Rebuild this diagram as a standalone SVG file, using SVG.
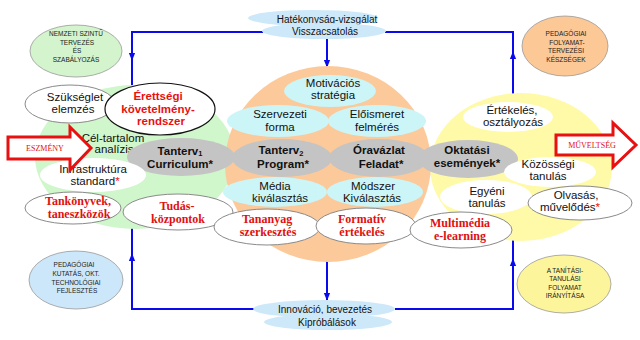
<svg xmlns="http://www.w3.org/2000/svg" width="640" height="340" viewBox="0 0 640 340">
<defs>
<style>
.t{font-family:"Liberation Sans",Arial,sans-serif;font-size:11.5px;fill:#111;text-anchor:middle}
.b{font-weight:bold}
.r{fill:#e81010}
.s{font-family:"Liberation Serif","Times New Roman",serif;font-weight:bold;font-size:12px;fill:#e01010;text-anchor:middle}
.sm{font-family:"Liberation Sans",Arial,sans-serif;font-size:6.5px;fill:#222;text-anchor:middle}
.md{font-size:10px}
.sub{font-size:7.5px}
.wh{fill:#fff;stroke:#8a8a8a;stroke-width:1}
.wn{fill:#fff}
.gr{fill:#c4c4c4}
.cy{fill:#ccf5f7}
.lb{fill:#cde9f9}
.cn{fill:none;stroke:#0a0aee;stroke-width:2}
.ar{fill:#fff;stroke:#e81010;stroke-width:3}
.at{font-family:"Liberation Serif","Times New Roman",serif;font-size:8px;fill:#e01010;text-anchor:middle}
</style>
<marker id="ah" viewBox="0 0 10 10" refX="9" refY="5" markerWidth="8" markerHeight="8" markerUnits="userSpaceOnUse" orient="auto">
<path d="M0,1 L10,5 L0,9 z" fill="#0a0aee"/>
</marker>
</defs>
<rect width="640" height="340" fill="#fff"/>

<g id="connectors">
<path class="cn" d="M263,32 H132 V100"/>
<path class="cn" d="M132,40 V60" marker-end="url(#ah)"/>
<path class="cn" d="M385,32 H513 V100"/>
<path class="cn" d="M513,70 V52" marker-end="url(#ah)"/>
<path class="cn" d="M255,309 H132 V220"/>
<path class="cn" d="M132,280 V254" marker-end="url(#ah)"/>
<path class="cn" d="M395,309 H513 V235"/>
<path class="cn" d="M513,285 V259" marker-end="url(#ah)"/>
<path class="cn" d="M327,39 V67" marker-end="url(#ah)"/>
<path class="cn" d="M327,260 V300" marker-end="url(#ah)"/>
</g>

<g id="feedback">
<ellipse class="lb" cx="313" cy="18" rx="65" ry="8"/>
<text class="t md" x="327" y="23">Hatékonyság-vizsgálat</text>
<ellipse class="lb" cx="324" cy="31" rx="62" ry="8"/>
<text class="t md" x="325" y="35">Visszacsatolás</text>
</g>
<g id="innovation">
<ellipse class="lb" cx="324" cy="309" rx="71" ry="9"/>
<text class="t md" x="325" y="313">Innováció, bevezetés</text>
<ellipse class="lb" cx="328" cy="322" rx="64" ry="8"/>
<text class="t md" x="327" y="326">Kipróbálások</text>
</g>

<g id="nemzeti">
<ellipse cx="76" cy="51" rx="46" ry="26" fill="#d3f4cc" stroke="#999" stroke-width="0.8"/>
<text class="sm" x="76" y="35.6">NEMZETI SZINTŰ</text>
<text class="sm" x="77" y="44.6">TERVEZÉS</text>
<text class="sm" x="77" y="53">ÉS</text>
<text class="sm" x="76" y="61.6">SZABÁLYOZÁS</text>
</g>
<g id="pedagogiai-folyamat">
<ellipse cx="565" cy="46" rx="43" ry="30" fill="#fcc895" stroke="#999" stroke-width="0.8"/>
<text class="sm" x="566" y="35.6">PEDAGÓGIAI</text>
<text class="sm" x="567" y="44.6">FOLYAMAT-</text>
<text class="sm" x="566" y="53">TERVEZÉSI</text>
<text class="sm" x="566" y="61.6">KÉSZSÉGEK</text>
</g>
<g id="pedagogiai-kutatas">
<ellipse cx="76" cy="280" rx="47" ry="29" fill="#cde7fa" stroke="#999" stroke-width="0.8"/>
<text class="sm" x="74" y="267.3">PEDAGÓGIAI</text>
<text class="sm" x="76" y="275.6">KUTATÁS, OKT.</text>
<text class="sm" x="76" y="284.6">TECHNOLÓGIAI</text>
<text class="sm" x="77" y="293.3">FEJLESZTÉS</text>
</g>
<g id="tanitasi">
<ellipse cx="564" cy="284" rx="47" ry="29" fill="#fdf59c" stroke="#999" stroke-width="0.8"/>
<text class="sm" x="565" y="273">A TANÍTÁSI-</text>
<text class="sm" x="565" y="281.3">TANULÁSI</text>
<text class="sm" x="565" y="290">FOLYAMAT</text>
<text class="sm" x="565" y="298.3">IRÁNYÍTÁSA</text>
</g>

<g id="green-area"><ellipse cx="135" cy="157" rx="100" ry="72" fill="#d0f6cb"/></g>
<g id="yellow-area"><ellipse cx="521" cy="167" rx="91" ry="74" fill="#fffaa8"/></g>
<g id="orange-area"><ellipse cx="328" cy="164" rx="103" ry="98" fill="#fcc99a"/></g>

<g id="cel-tartalom">
<text class="t" x="113" y="142">Cél-tartalom</text>
<text class="t" x="114" y="153">analízis</text>
</g>
<g id="szukseglet">
<ellipse class="wh" cx="70" cy="104" rx="45" ry="19"/>
<text class="t" x="75" y="101">Szükséglet</text>
<text class="t" x="73" y="113">elemzés</text>
</g>
<g id="erettsegi">
<ellipse cx="160" cy="109" rx="55" ry="26" fill="#fff" stroke="#111" stroke-width="1.2"/>
<text class="t b r" x="158" y="100">Érettségi</text>
<text class="t b r" x="158" y="112.5">követelmény-</text>
<text class="t b r" x="161" y="125">rendszer</text>
</g>
<g id="tanterv1">
<ellipse class="gr" cx="181" cy="157" rx="54" ry="19"/>
<text class="t b" x="180" y="154.5">Tanterv<tspan class="sub" dy="1.5">1</tspan></text>
<text class="t b" x="180" y="167.5">Curriculum*</text>
</g>
<g id="infrastruktura">
<ellipse class="wn" cx="93" cy="175" rx="53" ry="17"/>
<text class="t" x="93" y="173">Infrastruktúra</text>
<text class="t" x="95" y="185">standard<tspan class="r">*</tspan></text>
</g>
<g id="tankonyvek">
<ellipse class="wh" cx="73" cy="208" rx="48" ry="16"/>
<text class="s" x="78" y="204.5">Tankönyvek,</text>
<text class="s" x="79" y="217.5">taneszközök</text>
</g>
<g id="tudas">
<ellipse class="wh" cx="178" cy="212" rx="55" ry="18"/>
<text class="s" x="177" y="209.5">Tudás-</text>
<text class="s" x="178" y="222.5">központok</text>
</g>

<g id="motivacios">
<ellipse class="cy" cx="330" cy="91" rx="46" ry="16"/>
<text class="t" x="333" y="87">Motivációs</text>
<text class="t" x="333" y="99">stratégia</text>
</g>
<g id="szervezeti">
<ellipse class="cy" cx="278" cy="121" rx="51" ry="16"/>
<text class="t" x="280" y="118">Szervezeti</text>
<text class="t" x="280" y="131">forma</text>
</g>
<g id="eloismeret">
<ellipse class="cy" cx="377" cy="121" rx="49" ry="16"/>
<text class="t" x="377" y="118">Előismeret</text>
<text class="t" x="377" y="131">felmérés</text>
</g>
<g id="tanterv2">
<ellipse class="gr" cx="282" cy="158" rx="50" ry="19"/>
<text class="t b" x="281" y="154">Tanterv<tspan class="sub" dy="1.5">2</tspan></text>
<text class="t b" x="283" y="167.5">Program*</text>
</g>
<g id="oravazlat">
<ellipse class="gr" cx="379" cy="158" rx="50" ry="19"/>
<text class="t b" x="379" y="154">Óravázlat</text>
<text class="t b" x="381" y="167.5">Feladat*</text>
</g>
<g id="media">
<ellipse class="cy" cx="275" cy="192" rx="52" ry="15"/>
<text class="t" x="275" y="190">Média</text>
<text class="t" x="280" y="202">kiválasztás</text>
</g>
<g id="modszer">
<ellipse class="cy" cx="375" cy="192" rx="48" ry="15"/>
<text class="t" x="373" y="190">Módszer</text>
<text class="t" x="372" y="202">Kiválasztás</text>
</g>
<g id="tananyag">
<ellipse class="wh" cx="267" cy="227" rx="53" ry="18"/>
<text class="s" x="267" y="222.5">Tananyag</text>
<text class="s" x="268" y="235.5">szerkesztés</text>
</g>
<g id="formativ">
<ellipse class="wh" cx="366" cy="226" rx="50" ry="18"/>
<text class="s" x="362" y="222.5">Formatív</text>
<text class="s" x="362" y="235.5">értékelés</text>
</g>

<g id="ertekeles">
<ellipse class="wn" cx="508" cy="117" rx="45" ry="15"/>
<text class="t" x="512" y="114">Értékelés,</text>
<text class="t" x="513" y="126">osztályozás</text>
</g>
<g id="oktatasi">
<ellipse class="gr" cx="468" cy="159" rx="50" ry="19"/>
<text class="t b" x="467" y="154">Oktatási</text>
<text class="t b" x="467" y="166.5">események*</text>
</g>
<g id="kozossegi">
<ellipse class="wn" cx="550" cy="172" rx="46" ry="15"/>
<text class="t" x="548" y="168">Közösségi</text>
<text class="t" x="548" y="179.5">tanulás</text>
</g>
<g id="egyeni">
<ellipse class="wn" cx="486" cy="197" rx="46" ry="17"/>
<text class="t" x="487" y="195">Egyéni</text>
<text class="t" x="487" y="207">tanulás</text>
</g>
<g id="olvasas">
<ellipse class="wh" cx="580" cy="203" rx="52" ry="17"/>
<text class="t" x="576" y="199">Olvasás,</text>
<text class="t" x="570" y="210.5">művelődés<tspan class="r">*</tspan></text>
</g>
<g id="multimedia">
<ellipse class="wh" cx="461" cy="230" rx="51" ry="18"/>
<text class="s" x="460" y="226.5">Multimédia</text>
<text class="s" x="460" y="239.5">e-learning</text>
</g>

<g id="eszmeny">
<polygon class="ar" points="8,137 70,137 70,127 91,148 70,170 70,159 8,159"/>
<text class="at" x="45" y="151">ESZMÉNY</text>
</g>
<g id="muveltseg">
<polygon class="ar" points="556,135 613,135 613,123 636,145 613,167 613,155 556,155"/>
<text class="at" x="592" y="148">MŰVELTSÉG</text>
</g>
</svg>
